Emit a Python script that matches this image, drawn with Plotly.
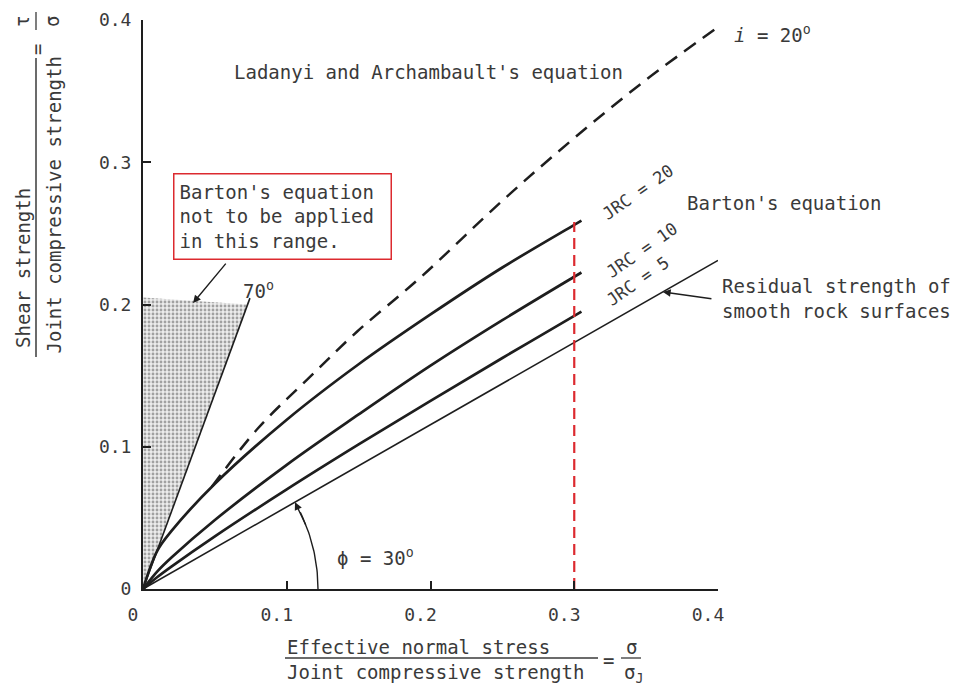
import numpy as np
import plotly.graph_objects as go

FONT = "DejaVu Sans Mono"
INK = "#1e1e1e"
TXT = "#3a3a3a"
RED = "#dc2a2f"

# ---------------------------------------------------------------------------
# Data (normalised stresses)
# ---------------------------------------------------------------------------
x_barton = [0, 0.01, 0.02, 0.05, 0.1, 0.15, 0.2, 0.25, 0.3, 0.305]
jrc20 = [0, 0.027, 0.041, 0.074, 0.119, 0.158, 0.193, 0.226, 0.256, 0.259]
jrc10 = [0, 0.0124, 0.0223, 0.0485, 0.0873, 0.1227, 0.157, 0.189, 0.2195, 0.2225]
jrc5 = [0, 0.0084, 0.0159, 0.037, 0.070, 0.1016, 0.1323, 0.1624, 0.192, 0.195]

x_ladanyi = [0.048, 0.08, 0.114, 0.149, 0.193, 0.25, 0.3, 0.35, 0.4]
y_ladanyi = [0.072, 0.113, 0.147, 0.181, 0.219, 0.273, 0.317, 0.358, 0.395]

x_residual = [0, 0.4]
y_residual = [0, 0.231]

x_70deg = [0, 0.0744]
y_70deg = [0, 0.2045]

x_stipple = [0, 0, 0.073, 0]
y_stipple = [0, 0.205, 0.200, 0]

x_limit = [0.3, 0.3]
y_limit = [0, 0.258]

tick_vals = [0, 0.1, 0.2, 0.3, 0.4]
tick_text = ["0", "0.1", "0.2", "0.3", "0.4"]

# plot-area box in page pixels (the page body adds an 8 px margin)
PAGE_W, PAGE_H, BODY = 959, 686, 8
L, R, T, B = 143, 718, 20, 589


def fx(px):
    return (px - L) / (R - L)


def fy(py):
    return (B - py) / (B - T)


fig = go.Figure()

# Zone where Barton's equation does not apply (stippled)
fig.add_trace(go.Scatter(
    x=x_stipple, y=y_stipple, mode="lines", fill="toself",
    line=dict(width=0), fillcolor="#eeeeee",
    fillpattern=dict(shape=".", fgcolor="#555555", bgcolor="#ececec",
                     size=4, solidity=0.4),
    hoverinfo="skip", showlegend=False,
))
fig.add_trace(go.Scatter(
    x=x_70deg, y=y_70deg, mode="lines",
    line=dict(color=INK, width=1.6), showlegend=False,
))

# Residual strength (phi = 30)
fig.add_trace(go.Scatter(
    x=x_residual, y=y_residual, mode="lines",
    line=dict(color=INK, width=1.6), showlegend=False,
))

# Barton curves
for ys in (jrc5, jrc10, jrc20):
    fig.add_trace(go.Scatter(
        x=x_barton, y=ys, mode="lines", line_shape="spline",
        line=dict(color=INK, width=2.7), showlegend=False,
    ))

# Ladanyi & Archambault (dashed)
fig.add_trace(go.Scatter(
    x=x_ladanyi, y=y_ladanyi, mode="lines", line_shape="spline",
    line=dict(color=INK, width=2.5, dash="14px,9px"), showlegend=False,
))

# Red limit line at 0.3
fig.add_trace(go.Scatter(
    x=x_limit, y=y_limit, mode="lines",
    line=dict(color=RED, width=2.2, dash="11px,6px"), showlegend=False,
))

# phi arc (decoration) centred at origin, ~175 px radius
rx, ry = 175 / 1437.5, 175 / 1422
th = np.radians(np.linspace(0, 26, 30))
fig.add_trace(go.Scatter(
    x=rx * np.cos(th), y=ry * np.sin(th), mode="lines",
    line=dict(color=INK, width=1.4), showlegend=False, hoverinfo="skip",
))
th_head, th_tail = np.radians(29.7), np.radians(21)
hx, hy = rx * np.cos(th_head), ry * np.sin(th_head)
tx, ty = rx * np.cos(th_tail), ry * np.sin(th_tail)
fig.add_annotation(x=hx, y=hy, ax=(tx - hx) * 1437.5, ay=-(ty - hy) * 1422,
                   text="", showarrow=True, arrowhead=2, arrowsize=1.1,
                   arrowwidth=1.4, arrowcolor=INK)

# Pointer arrows
fig.add_annotation(x=0.0348, y=0.201, ax=34, ay=-41, text="", showarrow=True,
                   arrowhead=2, arrowsize=1.1, arrowwidth=1.4, arrowcolor=INK)
fig.add_annotation(x=0.3617, y=0.2088, ax=50, ay=7, text="", showarrow=True,
                   arrowhead=2, arrowsize=1.1, arrowwidth=1.4, arrowcolor=INK)


def label(text, px, py, xanchor="center", yanchor="middle", angle=0, size=19, **kw):
    fig.add_annotation(
        xref="paper", yref="paper", x=fx(px), y=fy(py), text=text,
        xanchor=xanchor, yanchor=yanchor, textangle=angle, showarrow=False,
        font=dict(family=FONT, size=size, color=TXT), **kw,
    )


label("Ladanyi and Archambault's equation", 232, 72, xanchor="left")
label("<i>i</i> = 20<sup>o</sup>", 732, 34, xanchor="left")
label("Barton's equation", 685, 203, xanchor="left")
label("JRC = 20", 638, 192, angle=-35, size=17)
label("JRC = 10", 642, 250, angle=-35, size=17)
label("JRC = 5", 638, 281, angle=-35, size=17)
label("Residual strength of<br>smooth rock surfaces", 720, 298, xanchor="left", align="left")
label("70<sup>o</sup>", 258, 290)
label("\u03d5 = 30<sup>o</sup>", 375, 557)
label("Barton's equation<br>not to be applied<br>in this range.", 282.5, 216.5,
      align="left", width=206, height=74, bordercolor=RED, borderwidth=1.5,
      borderpad=5, bgcolor="white")

# y-axis fraction label
label("Shear strength", 23, 350, yanchor="bottom", angle=-90)
label("Joint compressive strength", 53, 356, yanchor="bottom", angle=-90)
label("=", 37, 50, angle=-90)
label("\u03c4", 22, 22, angle=-90)
label("\u03c3", 52, 22, angle=-90)
fig.add_shape(type="line", xref="paper", yref="paper", x0=fx(36), x1=fx(36),
              y0=fy(357), y1=fy(58), line=dict(color=TXT, width=1.5))
fig.add_shape(type="line", xref="paper", yref="paper", x0=fx(36), x1=fx(36),
              y0=fy(30), y1=fy(12), line=dict(color=TXT, width=1.3))

# x-axis fraction label
label("Effective normal stress", 285, 647, xanchor="left")
label("Joint compressive strength", 285, 672, xanchor="left")
label("=", 608, 660)
label("\u03c3", 631, 647)
label("\u03c3<sub>J</sub>", 633, 673)
fig.add_shape(type="line", xref="paper", yref="paper", x0=fx(285), x1=fx(598),
              y0=fy(658), y1=fy(658), line=dict(color=TXT, width=1.5))
fig.add_shape(type="line", xref="paper", yref="paper", x0=fx(621), x1=fx(641),
              y0=fy(658), y1=fy(658), line=dict(color=TXT, width=1.3))

axis_common = dict(
    tickvals=tick_vals, ticktext=tick_text, ticks="inside", ticklen=8,
    tickwidth=1.6, tickcolor=INK, showline=True, linecolor=INK, linewidth=2,
    showgrid=False, zeroline=False, automargin=False,
    tickfont=dict(family=FONT, size=18, color=TXT),
)

fig.update_layout(
    width=PAGE_W - BODY, height=PAGE_H - BODY,
    margin=dict(l=L - BODY, r=PAGE_W - R, t=T - BODY, b=PAGE_H - B, autoexpand=False),
    paper_bgcolor="white", plot_bgcolor="white",
    xaxis=dict(range=[0, 0.4], ticklabelshift=-10, ticklabelstandoff=8, **axis_common),
    yaxis=dict(range=[0, 0.4], ticklabelstandoff=6, **axis_common),
    showlegend=False,
)

fig.write_html("out.html")
